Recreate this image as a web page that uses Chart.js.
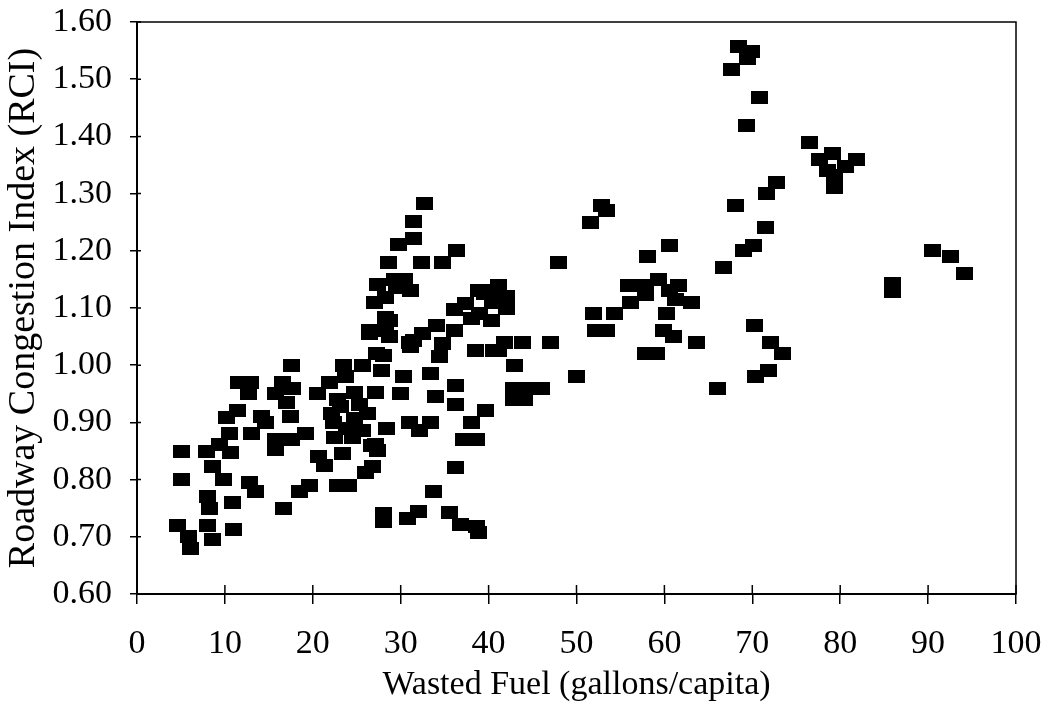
<!DOCTYPE html>
<html>
<head>
<meta charset="utf-8">
<title>Wasted Fuel vs Roadway Congestion Index</title>
<script src="https://cdn.jsdelivr.net/npm/chart.js@4/dist/chart.umd.min.js"></script>
<style>
  html, body { margin: 0; padding: 0; background: #fff; }
  canvas { display: block; }
</style>
</head>
<body>
<canvas id="chart" width="1043" height="702"></canvas>
<script>
// Data (x = gallons/capita, y = RCI)
const wastedFuel = [
  // 0-20
  5.1, 5.1, 4.6, 5.9, 6.1, 8.0, 8.6, 8.0, 8.2, 10.9, 11.0, 9.8, 12.8, 13.5, 16.7,
  7.9, 8.6, 9.4, 10.6, 10.5, 10.2, 11.4, 11.5, 12.9, 12.7, 13.0, 14.2, 14.6,
  15.7, 15.7, 17.6, 19.2, 16.6, 17.7, 15.7, 17.0, 17.5, 17.6, 18.5, 19.6, 20.6, 21.3,
  // 20-30
  20.5, 21.9, 23.7, 22.1, 22.3, 22.5, 23.4, 24.7, 27.1, 23.2, 25.3, 24.7, 24.5, 26.7,
  27.4, 26.8, 26.0, 22.8, 24.1, 23.5, 25.7, 27.8, 28.1, 26.5, 28.7, 26.4, 28.7, 27.2,
  25.6, 23.8, 26.2, 22.8,
  // 27-37 upper
  32.7, 31.5, 31.4, 29.8, 36.4, 28.6, 32.4, 34.7, 29.3, 27.4, 29.5, 31.1, 27.0, 28.3,
  28.3, 28.3, 30.4,
  // 28-41
  31.1, 32.5, 31.5, 34.1, 36.1, 34.7, 34.4, 31.0, 30.3, 33.4, 36.2, 30.0, 34.0, 36.2,
  39.7, 38.0, 37.2, 38.6, 31.0, 33.4, 32.1, 28.4, 27.1, 36.2, 33.7, 28.1, 28.1, 32.0,
  30.8, 35.5, 36.8, 38.6, 38.8, 36.1, 38.8, 37.4, 39.0, 38.0, 40.5, 40.5, 38.5, 40.6,
  // 39-50
  41.1, 39.5, 42.0, 42.0, 40.3, 41.1, 41.8, 43.9, 47.0, 43.0, 42.8, 44.7, 46.0, 42.8,
  44.1, 48.0, 50.0,
  // 50-65
  52.8, 53.4, 51.6, 60.6, 58.1, 55.9, 57.9, 59.3, 61.6, 57.8, 56.2, 60.6, 61.3, 63.1,
  60.2, 51.9, 54.3, 52.2, 53.4, 59.9, 61.0, 63.6, 57.9, 59.1,
  // 65-95
  68.4, 69.9, 69.4, 67.6, 70.8, 69.3, 76.5, 77.6, 79.1, 81.9, 80.6, 78.6, 79.4, 79.4,
  72.7, 71.6, 68.1, 71.5, 70.1, 69.0, 66.7, 85.9, 85.9, 90.5, 92.6, 94.1, 70.3, 72.1,
  73.4, 71.8, 70.4, 66.0
];

const rci = [
  0.85, 0.80, 0.72, 0.70, 0.68, 0.72, 0.695, 0.77, 0.75, 0.76, 0.713, 0.80, 0.795, 0.78, 0.75,
  0.85, 0.823, 0.862, 0.848, 0.88, 0.908, 0.92, 0.97, 0.97, 0.95, 0.88, 0.91, 0.90,
  0.87, 0.852, 0.87, 0.88, 0.97, 0.96, 0.95, 0.935, 0.91, 1.00, 0.78, 0.79, 0.84, 0.825,
  0.95, 0.97, 0.98, 0.915, 0.90, 0.874, 0.846, 0.952, 0.953, 0.927, 0.932, 0.906, 0.874, 0.86,
  0.851, 0.823, 0.812, 0.79, 0.79, 1.00, 1.00, 0.99, 1.017, 1.055, 1.05, 1.06, 1.078, 1.02,
  0.885, 0.89, 0.915, 0.94,
  1.282, 1.251, 1.222, 1.211, 1.20, 1.18, 1.18, 1.18, 1.15, 1.141, 1.135, 1.13, 1.11, 1.118,
  1.083, 1.06, 1.15,
  1.032, 1.055, 1.044, 1.07, 1.06, 1.038, 1.016, 1.04, 0.98, 0.985, 0.965, 0.95, 0.945, 0.932,
  0.92, 0.90, 0.87, 0.87, 0.90, 0.90, 0.886, 0.89, 0.862, 0.822, 0.78, 0.741, 0.727, 0.744,
  0.732, 0.743, 0.722, 0.718, 0.708, 1.098, 1.13, 1.108, 1.09, 1.082, 1.13, 1.11, 1.025, 1.025,
  1.14, 1.125, 1.12, 1.10, 1.078, 1.025, 1.04, 1.04, 1.04, 1.00, 0.96, 0.96, 0.96, 0.94,
  0.94, 1.18, 0.98,
  1.28, 1.27, 1.25, 1.21, 1.19, 1.14, 1.14, 1.15, 1.14, 1.124, 1.11, 1.13, 1.115, 1.11,
  1.09, 1.09, 1.09, 1.06, 1.06, 1.06, 1.05, 1.04, 1.02, 1.02,
  1.558, 1.549, 1.537, 1.517, 1.468, 1.419, 1.39, 1.36, 1.37, 1.36, 1.348, 1.34, 1.331, 1.311,
  1.32, 1.30, 1.28, 1.24, 1.21, 1.20, 1.17, 1.142, 1.128, 1.20, 1.19, 1.16, 1.07, 1.04,
  1.02, 0.99, 0.98, 0.96
];

const xTicks = [0, 10, 20, 30, 40, 50, 60, 70, 80, 90, 100];
const yTicks = [0.6, 0.7, 0.8, 0.9, 1.0, 1.1, 1.2, 1.3, 1.4, 1.5, 1.6];

const FONT = '"Liberation Serif", "Times New Roman", serif';

// Filled rectangle marker like the original
const marker = document.createElement('canvas');
marker.width = 17;
marker.height = 13;
const mctx = marker.getContext('2d');
mctx.fillStyle = '#000';
mctx.fillRect(0, 0, 17, 13);

const points = wastedFuel.map((x, i) => ({ x: x, y: rci[i] }));

// Frame around the plot and tick marks crossing into the plot area
const framePlugin = {
  id: 'frame',
  afterDraw(chart) {
    const { ctx, chartArea: a, scales } = chart;
    ctx.save();
    ctx.strokeStyle = '#000';
    ctx.lineWidth = 1.5;
    ctx.strokeRect(a.left, a.top, a.right - a.left, a.bottom - a.top);
    ctx.beginPath();
    xTicks.forEach(v => {
      const px = scales.x.getPixelForValue(v);
      ctx.moveTo(px, a.bottom);
      ctx.lineTo(px, a.bottom - 9);
    });
    yTicks.forEach(v => {
      const py = scales.y.getPixelForValue(v);
      ctx.moveTo(a.left, py);
      ctx.lineTo(a.left + 4, py);
    });
    ctx.stroke();
    ctx.restore();
  }
};

new Chart(document.getElementById('chart'), {
  type: 'scatter',
  data: {
    datasets: [{
      label: 'RCI',
      data: points,
      pointStyle: marker,
      backgroundColor: '#000',
      borderColor: '#000'
    }]
  },
  options: {
    responsive: false,
    animation: false,
    devicePixelRatio: 1,
    layout: {
      padding: { top: 22, right: 27, left: 0, bottom: 0 }
    },
    plugins: {
      legend: { display: false },
      tooltip: { enabled: false }
    },
    scales: {
      x: {
        type: 'linear',
        min: 0,
        max: 100,
        afterFit: scale => {
          scale.height = 108;
          scale.paddingLeft = 0;
          scale.paddingRight = 0;
        },
        afterBuildTicks: scale => { scale.ticks = xTicks.map(v => ({ value: v })); },
        ticks: {
          color: '#000',
          padding: 20,
          maxRotation: 0,
          font: { family: FONT, size: 34 }
        },
        grid: {
          drawOnChartArea: false,
          color: '#000',
          lineWidth: 1.5,
          tickLength: 10
        },
        border: { color: '#000', width: 2 },
        title: {
          display: true,
          text: 'Wasted Fuel (gallons/capita)',
          color: '#000',
          padding: 0,
          font: { family: FONT, size: 34, lineHeight: 1.0 }
        }
      },
      y: {
        type: 'linear',
        min: 0.6,
        max: 1.6,
        afterFit: scale => {
          scale.width = 137;
          scale.paddingTop = 0;
          scale.paddingBottom = 0;
        },
        afterBuildTicks: scale => { scale.ticks = yTicks.map(v => ({ value: v })); },
        ticks: {
          color: '#000',
          padding: 18,
          font: { family: FONT, size: 34 },
          callback: v => v.toFixed(2)
        },
        grid: {
          drawOnChartArea: false,
          color: '#000',
          lineWidth: 1.5,
          tickLength: 7
        },
        border: { color: '#000', width: 2 },
        title: {
          display: true,
          text: 'Roadway Congestion Index (RCI)',
          color: '#000',
          padding: { top: 1, bottom: 0 },
          font: { family: FONT, size: 38, lineHeight: 1.2 }
        }
      }
    }
  },
  plugins: [framePlugin]
});
</script>
</body>
</html>
